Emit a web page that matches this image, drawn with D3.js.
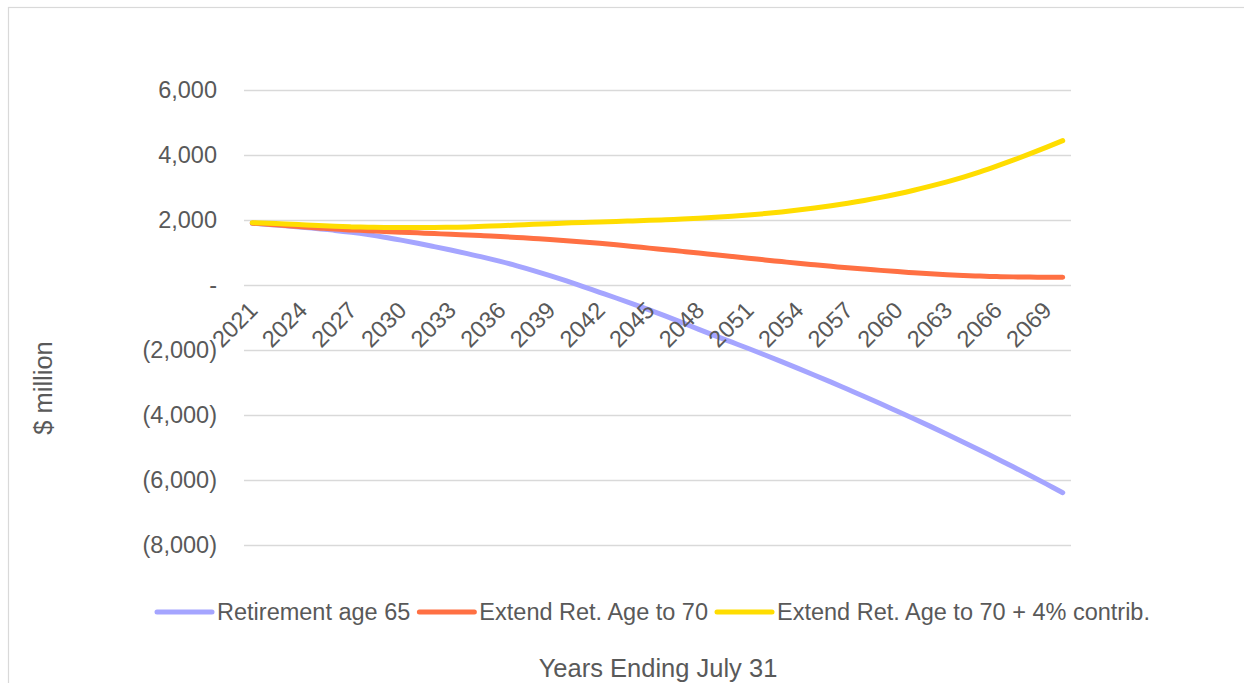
<!DOCTYPE html>
<html>
<head>
<meta charset="utf-8">
<script src="https://cdn.jsdelivr.net/npm/d3@7"></script>
<style>
  html, body { margin: 0; padding: 0; background: #fff; }
  svg { display: block; }
  text { font-family: "Liberation Sans", Arial, sans-serif; fill: #595959; }
</style>
</head>
<body>
<svg id="chart" width="1244" height="683"></svg>
<script>
const years = d3.range(2021, 2071);
const tickYears = d3.range(2021, 2071, 3);
const yTicks = [-8000, -6000, -4000, -2000, 0, 2000, 4000, 6000];
const seriesNames = ["Retirement age 65", "Extend Ret. Age to 70", "Extend Ret. Age to 70 + 4% contrib."];
const seriesColors = ["#A5A5FF", "#FF7043", "#FFDD00"];

const retire65 = [1900, 1865, 1825, 1780, 1730, 1680, 1620, 1550, 1470, 1380,
  1285, 1182, 1075, 965, 850, 725, 590, 445, 290, 125,
  -50, -225, -400, -580, -765, -960, -1160, -1365, -1565, -1760,
  -1955, -2155, -2358, -2565, -2775, -2990, -3210, -3430, -3655, -3885,
  -4115, -4350, -4590, -4835, -5085, -5340, -5595, -5855, -6120, -6390];
const extend70 = [1900, 1870, 1830, 1790, 1755, 1720, 1695, 1670, 1645, 1625,
  1605, 1582, 1560, 1538, 1515, 1490, 1462, 1432, 1400, 1365,
  1325, 1282, 1235, 1185, 1135, 1085, 1035, 985, 930, 878,
  826, 772, 720, 667, 620, 575, 530, 490, 450, 412,
  377, 344, 315, 292, 274, 260, 250, 243, 239, 236];
const extend70c = [1918, 1900, 1880, 1855, 1828, 1805, 1788, 1777, 1770, 1766,
  1766, 1769, 1776, 1788, 1804, 1823, 1845, 1867, 1888, 1907,
  1924, 1940, 1955, 1971, 1989, 2008, 2029, 2053, 2083, 2117,
  2155, 2198, 2248, 2305, 2368, 2438, 2515, 2600, 2695, 2800,
  2915, 3040, 3175, 3320, 3480, 3655, 3840, 4035, 4235, 4441];

const seriesValues = [retire65, extend70, extend70c];

const svg = d3.select("#chart");
const fs = 23.5;

// chart border
svg.append("rect").attr("x", 8.5).attr("y", 7.5).attr("width", 1300).attr("height", 700)
  .attr("fill", "none").attr("stroke", "#d9d9d9").attr("stroke-width", 1.2);

const x = d3.scaleBand().domain(years).range([244, 1071]);
const y = d3.scaleLinear().domain([-8000, 6000]).range([545, 90]);
const cx = d => x(d) + x.bandwidth() / 2;

const fmt = v => v === 0 ? "-" : (v < 0 ? "(" + d3.format(",")(-v) + ")" : d3.format(",")(v));

// gridlines + y labels via axis
const yAxis = d3.axisLeft(y).tickValues(yTicks).tickSize(-(1071 - 244)).tickFormat(fmt).tickPadding(27);
const gy = svg.append("g").attr("transform", "translate(244,0)").call(yAxis);
gy.select(".domain").remove();
gy.selectAll(".tick line").attr("stroke", "#d9d9d9").attr("stroke-width", 1.5);
gy.selectAll(".tick text").attr("font-size", fs).attr("fill", "#595959")
  .style("font-family", "'Liberation Sans', Arial, sans-serif");

// lines
const line = d3.line().x((d, i) => cx(years[i])).y(d => y(d)).curve(d3.curveCatmullRom.alpha(0.5));
seriesValues.forEach((vals, k) => {
  svg.append("path").datum(vals).attr("d", line)
    .attr("fill", "none").attr("stroke", seriesColors[k]).attr("stroke-width", 5)
    .attr("stroke-linecap", "round").attr("stroke-linejoin", "round");
});

// x labels
const xl = svg.append("g");
tickYears.forEach(yr => {
  xl.append("text")
    .attr("transform", `translate(${cx(yr) + 1},${y(0) + 21}) rotate(-45)`)
    .attr("text-anchor", "end").attr("dy", "0.35em")
    .attr("font-size", fs).text(yr);
});

// axis titles
svg.append("text").attr("x", 658).attr("y", 677).attr("text-anchor", "middle")
  .attr("font-size", 25.5).text("Years Ending July 31");
svg.append("text").attr("transform", "translate(52,388) rotate(-90)").attr("text-anchor", "middle")
  .attr("font-size", 25.5).text("$ million");

// legend
const lg = svg.append("g");
const lineLen = 55, gap = 5, itemGap = 9;
let items = [];
let total = 0;
seriesNames.forEach((n, k) => {
  const g = lg.append("g");
  g.append("line").attr("x1", 0).attr("x2", lineLen).attr("y1", 0).attr("y2", 0)
    .attr("stroke", seriesColors[k]).attr("stroke-width", 5).attr("stroke-linecap", "round");
  const t = g.append("text").attr("x", lineLen + gap).attr("dy", "0.35em").attr("font-size", fs).text(n);
  const w = lineLen + gap + t.node().getComputedTextLength();
  items.push({ g, w });
  total += w;
});
total += itemGap * (items.length - 1);
let start = 653.5 - total / 2;
items.forEach(it => {
  it.g.attr("transform", `translate(${start},612)`);
  start += it.w + itemGap;
});
</script>
</body>
</html>
